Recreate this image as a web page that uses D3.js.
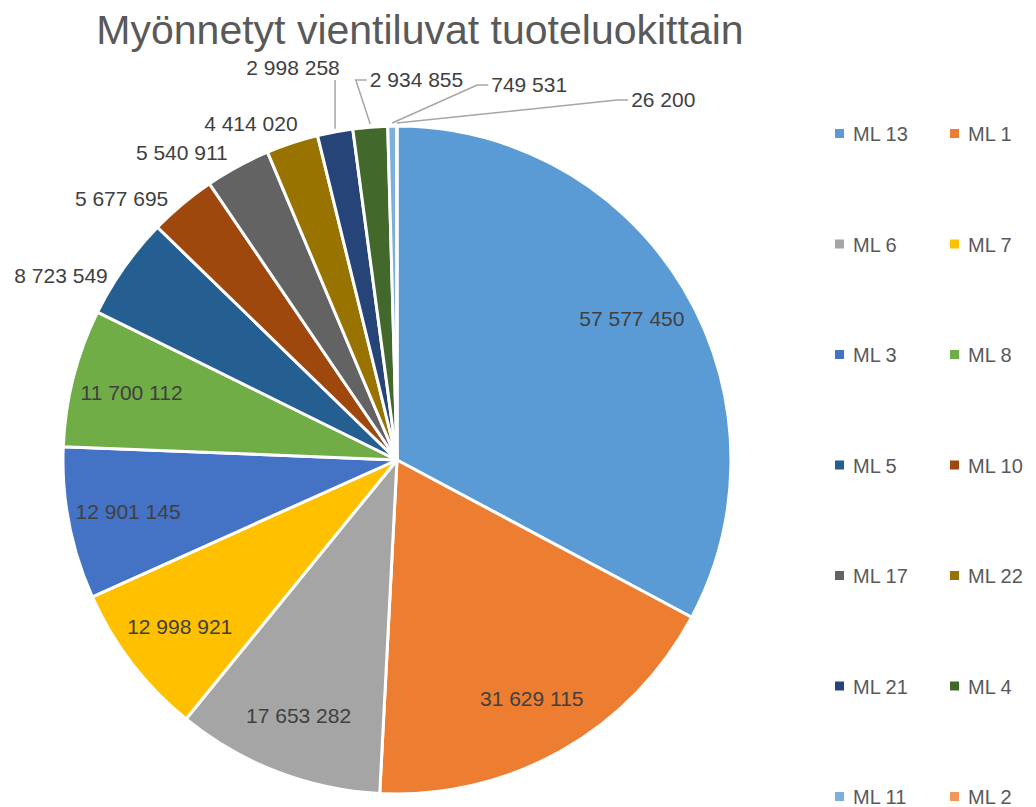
<!DOCTYPE html>
<html>
<head>
<meta charset="utf-8">
<script src="https://cdn.jsdelivr.net/npm/d3@7"></script>
<style>
  body { margin: 0; background: #fff; }
  text { font-family: "Liberation Sans", "DejaVu Sans", sans-serif; }
</style>
</head>
<body>
<svg id="chart"></svg>
<script>
const width = 1036;
const height = 807;

const categories = ["ML 13", "ML 1", "ML 6", "ML 7", "ML 3", "ML 8", "ML 5",
  "ML 10", "ML 17", "ML 22", "ML 21", "ML 4", "ML 11", "ML 2"];
const values = [57577450, 31629115, 17653282, 12998921, 12901145, 11700112, 8723549,
  5677695, 5540911, 4414020, 2998258, 2934855, 749531, 26200];
const colors = ["#5B9BD5", "#ED7D31", "#A5A5A5", "#FFC000", "#4472C4", "#70AD47", "#255E91",
  "#9E480E", "#636363", "#997300", "#264478", "#43682B", "#7CAFDD", "#F1975A"];

const data = categories.map((c, i) => ({ cat: c, value: values[i], color: colors[i] }));

const cx = 397, cy = 460, r = 334;

const svg = d3.select("#chart")
  .attr("width", width)
  .attr("height", height);

svg.append("text")
  .attr("x", 420)
  .attr("y", 44)
  .attr("text-anchor", "middle")
  .attr("fill", "#595959")
  .style("font-size", "41px")
  .text("Myönnetyt vientiluvat tuoteluokittain");

const pie = d3.pie().sort(null).value(d => d.value);
const arcs = pie(data);
const arc = d3.arc().innerRadius(0).outerRadius(r);

const g = svg.append("g").attr("transform", `translate(${cx},${cy})`);

g.selectAll("path")
  .data(arcs)
  .join("path")
  .attr("d", arc)
  .attr("fill", d => d.data.color)
  .attr("stroke", "#fff")
  .attr("stroke-width", 3)
  .attr("stroke-linejoin", "round");

const fmt = v => d3.format(",")(v).replace(/,/g, " ");
const polar = (a, rad) => [Math.sin(a) * rad, -Math.cos(a) * rad];
const mid = d => (d.startAngle + d.endAngle) / 2;

const labels = g.append("g")
  .attr("fill", "#404040")
  .style("font-size", "21px");

// big slices: label inside
arcs.slice(0, 6).forEach(d => {
  const [x, y] = polar(mid(d), r * 0.82);
  labels.append("text")
    .attr("x", x).attr("y", y)
    .attr("text-anchor", "middle")
    .attr("dy", "0.35em")
    .text(fmt(d.data.value));
});

// mid slices: label just outside the edge
arcs.slice(6, 10).forEach(d => {
  const a = mid(d);
  const [x, y] = polar(a, r + 14);
  const t = labels.append("text")
    .attr("text-anchor", "end")
    .attr("dy", "0.35em")
    .text(fmt(d.data.value));
  const w = t.node().getComputedTextLength();
  const shift = w * Math.max(0, (Math.sin(a) + 0.5) * 0.85) - 5;
  t.attr("x", x + shift).attr("y", y - (Math.cos(a) - 0.85) * 60);
});

// thin slices: labels in a row above the pie with leader lines
const leaders = g.append("g")
  .attr("fill", "none")
  .attr("stroke", "#A6A6A6")
  .attr("stroke-width", 1.5);

const tailY = [-392, -380, -375, -360];
const tailGap = [0, 30, 28, 64];

let prevRight = null;
arcs.slice(10).forEach((d, k) => {
  const [ex, ey] = polar(mid(d), r);
  const t = labels.append("text")
    .attr("dy", "0.35em")
    .text(fmt(d.data.value));
  const w = t.node().getComputedTextLength();
  const ly = tailY[k];
  if (k === 0) {
    t.attr("x", ex - 42).attr("y", ly).attr("text-anchor", "middle");
    leaders.append("path")
      .attr("d", `M${ex},${ey - 3}L${ex},${ly + 12}`);
    prevRight = ex - 42 + w / 2;
  } else {
    const left = prevRight + tailGap[k];
    t.attr("x", left).attr("y", ly);
    leaders.append("path")
      .attr("d", `M${ex},${ey - 3}L${left - 14},${ly}L${left - 3},${ly}`);
    prevRight = left + w;
  }
});

// legend
const legend = svg.append("g")
  .attr("fill", "#595959")
  .style("font-size", "20px");

data.forEach((d, i) => {
  const col = i % 2, row = Math.floor(i / 2);
  const x = 835 + col * 115, y = 134 + row * 110.5;
  legend.append("rect")
    .attr("x", x).attr("y", y - 5)
    .attr("width", 9).attr("height", 9)
    .attr("fill", d.color);
  legend.append("text")
    .attr("x", x + 18).attr("y", y)
    .attr("dy", "0.35em")
    .text(d.cat);
});
</script>
</body>
</html>
